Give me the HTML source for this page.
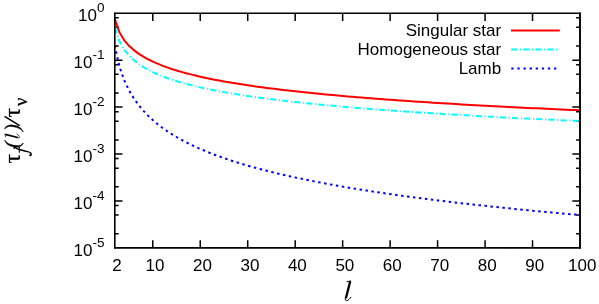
<!DOCTYPE html>
<html><head><meta charset="utf-8"><title>plot</title><style>html,body{margin:0;padding:0;background:#fff;}svg{display:block;will-change:transform;}text{font-family:"Liberation Sans",sans-serif;fill:#000;}.s{font-family:"Liberation Serif",serif;}.i{font-family:"Liberation Serif",serif;font-style:italic;}</style></head><body>
<svg width="599" height="304" viewBox="0 0 599 304">
<rect x="0" y="0" width="599" height="304" fill="#fff"/>
<path d="M152.78,247.90 v-7.7 M152.78,13.20 v7.7 M200.24,247.90 v-7.7 M200.24,13.20 v7.7 M247.71,247.90 v-7.7 M247.71,13.20 v7.7 M295.18,247.90 v-7.7 M295.18,13.20 v7.7 M342.65,247.90 v-7.7 M342.65,13.20 v7.7 M390.12,247.90 v-7.7 M390.12,13.20 v7.7 M437.59,247.90 v-7.7 M437.59,13.20 v7.7 M485.06,247.90 v-7.7 M485.06,13.20 v7.7 M532.53,247.90 v-7.7 M532.53,13.20 v7.7 M114.80,46.01 h3.9 M580.00,46.01 h-3.9 M114.80,27.33 h3.9 M580.00,27.33 h-3.9 M114.80,17.75 h3.9 M580.00,17.75 h-3.9 M114.80,60.14 h7.7 M580.00,60.14 h-7.7 M114.80,92.95 h3.9 M580.00,92.95 h-3.9 M114.80,74.27 h3.9 M580.00,74.27 h-3.9 M114.80,64.69 h3.9 M580.00,64.69 h-3.9 M114.80,107.08 h7.7 M580.00,107.08 h-7.7 M114.80,139.89 h3.9 M580.00,139.89 h-3.9 M114.80,121.21 h3.9 M580.00,121.21 h-3.9 M114.80,111.63 h3.9 M580.00,111.63 h-3.9 M114.80,154.02 h7.7 M580.00,154.02 h-7.7 M114.80,186.83 h3.9 M580.00,186.83 h-3.9 M114.80,168.15 h3.9 M580.00,168.15 h-3.9 M114.80,158.57 h3.9 M580.00,158.57 h-3.9 M114.80,200.96 h7.7 M580.00,200.96 h-7.7 M114.80,233.77 h3.9 M580.00,233.77 h-3.9 M114.80,215.09 h3.9 M580.00,215.09 h-3.9 M114.80,205.51 h3.9 M580.00,205.51 h-3.9" stroke="#000" stroke-width="1.5" fill="none"/>
<clipPath id="c"><rect x="113.8" y="13.2" width="467.2" height="234.7"/></clipPath>
<g clip-path="url(#c)" fill="none" stroke-width="2" stroke-linejoin="round">
<path d="M114.80,19.20 L119.55,32.57 L124.29,40.31 L129.04,45.80 L133.79,50.09 L138.53,53.62 L143.28,56.63 L148.03,59.26 L152.78,61.59 L157.52,63.69 L162.27,65.60 L167.02,67.35 L171.76,68.97 L176.51,70.46 L181.26,71.86 L186.00,73.17 L190.75,74.40 L195.50,75.56 L200.24,76.66 L204.99,77.71 L209.74,78.70 L214.49,79.65 L219.23,80.55 L223.98,81.42 L228.73,82.25 L233.47,83.05 L238.22,83.82 L242.97,84.56 L247.71,85.28 L252.46,85.97 L257.21,86.64 L261.96,87.29 L266.70,87.91 L271.45,88.52 L276.20,89.11 L280.94,89.69 L285.69,90.24 L290.44,90.79 L295.18,91.32 L299.93,91.83 L304.68,92.34 L309.42,92.83 L314.17,93.31 L318.92,93.78 L323.67,94.24 L328.41,94.68 L333.16,95.12 L337.91,95.55 L342.65,95.97 L347.40,96.38 L352.15,96.79 L356.89,97.18 L361.64,97.57 L366.39,97.95 L371.13,98.33 L375.88,98.69 L380.63,99.05 L385.38,99.41 L390.12,99.76 L394.87,100.10 L399.62,100.44 L404.36,100.77 L409.11,101.09 L413.86,101.42 L418.60,101.73 L423.35,102.04 L428.10,102.35 L432.84,102.65 L437.59,102.95 L442.34,103.24 L447.09,103.53 L451.83,103.82 L456.58,104.10 L461.33,104.38 L466.07,104.65 L470.82,104.92 L475.57,105.19 L480.31,105.45 L485.06,105.71 L489.81,105.96 L494.56,106.22 L499.30,106.47 L504.05,106.71 L508.80,106.96 L513.54,107.20 L518.29,107.44 L523.04,107.67 L527.78,107.91 L532.53,108.14 L537.28,108.37 L542.02,108.59 L546.77,108.81 L551.52,109.03 L556.27,109.25 L561.01,109.47 L565.76,109.68 L570.51,109.89 L575.25,110.10 L580.00,110.31" stroke="#ff0000"/>
<path d="M114.80,27.33 L119.55,41.46 L124.29,49.73 L129.04,55.59 L133.79,60.14 L138.53,63.86 L143.28,67.00 L148.03,69.72 L152.78,72.12 L157.52,74.27 L162.27,76.21 L167.02,77.99 L171.76,79.62 L176.51,81.13 L181.26,82.54 L186.00,83.85 L190.75,85.09 L195.50,86.25 L200.24,87.36 L204.99,88.40 L209.74,89.40 L214.49,90.34 L219.23,91.25 L223.98,92.12 L228.73,92.95 L233.47,93.75 L238.22,94.52 L242.97,95.26 L247.71,95.98 L252.46,96.67 L257.21,97.33 L261.96,97.98 L266.70,98.61 L271.45,99.22 L276.20,99.81 L280.94,100.38 L285.69,100.94 L290.44,101.49 L295.18,102.01 L299.93,102.53 L304.68,103.03 L309.42,103.53 L314.17,104.01 L318.92,104.47 L323.67,104.93 L328.41,105.38 L333.16,105.82 L337.91,106.25 L342.65,106.67 L347.40,107.08 L352.15,107.48 L356.89,107.88 L361.64,108.27 L366.39,108.65 L371.13,109.02 L375.88,109.39 L380.63,109.75 L385.38,110.11 L390.12,110.45 L394.87,110.80 L399.62,111.13 L404.36,111.47 L409.11,111.79 L413.86,112.11 L418.60,112.43 L423.35,112.74 L428.10,113.05 L432.84,113.35 L437.59,113.65 L442.34,113.94 L447.09,114.23 L451.83,114.51 L456.58,114.79 L461.33,115.07 L466.07,115.35 L470.82,115.62 L475.57,115.88 L480.31,116.15 L485.06,116.40 L489.81,116.66 L494.56,116.91 L499.30,117.16 L504.05,117.41 L508.80,117.66 L513.54,117.90 L518.29,118.14 L523.04,118.37 L527.78,118.60 L532.53,118.83 L537.28,119.06 L542.02,119.29 L546.77,119.51 L551.52,119.73 L556.27,119.95 L561.01,120.16 L565.76,120.38 L570.51,120.59 L575.25,120.80 L580.00,121.01" stroke="#00ffff" stroke-dasharray="6.1 2.78 1.15 2.1"/>
<path d="M114.80,46.01 L119.55,67.00 L124.29,80.39 L129.04,90.34 L133.79,98.30 L138.53,104.93 L143.28,110.63 L148.03,115.62 L152.78,120.06 L157.52,124.06 L162.27,127.70 L167.02,131.04 L171.76,134.13 L176.51,137.00 L181.26,139.68 L186.00,142.20 L190.75,144.57 L195.50,146.81 L200.24,148.93 L204.99,150.95 L209.74,152.87 L214.49,154.70 L219.23,156.46 L223.98,158.14 L228.73,159.76 L233.47,161.31 L238.22,162.81 L242.97,164.25 L247.71,165.65 L252.46,167.00 L257.21,168.30 L261.96,169.57 L266.70,170.79 L271.45,171.99 L276.20,173.14 L280.94,174.27 L285.69,175.36 L290.44,176.43 L295.18,177.47 L299.93,178.48 L304.68,179.47 L309.42,180.44 L314.17,181.38 L318.92,182.30 L323.67,183.20 L328.41,184.08 L333.16,184.95 L337.91,185.79 L342.65,186.62 L347.40,187.43 L352.15,188.23 L356.89,189.01 L361.64,189.77 L366.39,190.53 L371.13,191.26 L375.88,191.99 L380.63,192.70 L385.38,193.40 L390.12,194.09 L394.87,194.77 L399.62,195.43 L404.36,196.09 L409.11,196.73 L413.86,197.37 L418.60,197.99 L423.35,198.61 L428.10,199.21 L432.84,199.81 L437.59,200.40 L442.34,200.98 L447.09,201.55 L451.83,202.12 L456.58,202.67 L461.33,203.22 L466.07,203.76 L470.82,204.30 L475.57,204.83 L480.31,205.35 L485.06,205.86 L489.81,206.37 L494.56,206.87 L499.30,207.37 L504.05,207.86 L508.80,208.34 L513.54,208.82 L518.29,209.29 L523.04,209.76 L527.78,210.22 L532.53,210.68 L537.28,211.13 L542.02,211.58 L546.77,212.02 L551.52,212.46 L556.27,212.89 L561.01,213.32 L565.76,213.74 L570.51,214.16 L575.25,214.58 L580.00,214.99" stroke="#0000ff" stroke-dasharray="2.5 3.5" stroke-dashoffset="0.5"/>
</g>
<g stroke="#000" fill="none" stroke-linecap="round"><path d="M114.8,13.2 V247.9" stroke-width="1.6"/><path d="M580,13.2 V247.9" stroke-width="1.9"/><path d="M114.8,13.3 H580" stroke-width="1.5"/><path d="M114.8,247.9 H580" stroke-width="1.6"/></g>
<g font-size="17" text-anchor="middle">
<text x="117.00" y="271">2</text>
<text x="154.98" y="271">10</text>
<text x="202.44" y="271">20</text>
<text x="249.91" y="271">30</text>
<text x="297.38" y="271">40</text>
<text x="344.85" y="271">50</text>
<text x="392.32" y="271">60</text>
<text x="439.79" y="271">70</text>
<text x="487.26" y="271">80</text>
<text x="534.73" y="271">90</text>
<text x="582.20" y="271">100</text>
</g>
<g font-size="17" text-anchor="end">
<text x="104.6" y="20.80">10<tspan font-size="13.6" dy="-8.6">0</tspan></text>
<text x="104.6" y="67.74">10<tspan font-size="13.6" dy="-8.6">-1</tspan></text>
<text x="104.6" y="114.68">10<tspan font-size="13.6" dy="-8.6">-2</tspan></text>
<text x="104.6" y="161.62">10<tspan font-size="13.6" dy="-8.6">-3</tspan></text>
<text x="104.6" y="208.56">10<tspan font-size="13.6" dy="-8.6">-4</tspan></text>
<text x="104.6" y="255.50">10<tspan font-size="13.6" dy="-8.6">-5</tspan></text>
</g>
<g font-size="17" text-anchor="end">
<text x="501.2" y="36">Singular star</text>
<text x="501.2" y="55.2">Homogeneous star</text>
<text x="501.2" y="74">Lamb</text>
</g>
<g fill="none" stroke-width="2">
<path d="M511,30.5 H559.8" stroke="#ff0000"/>
<path d="M511,49.5 H558.2" stroke="#00ffff" stroke-dasharray="6.1 2.78 1.15 2.1"/>
<path d="M511.3,68.55 H556.4" stroke="#0000ff" stroke-dasharray="2.3 3.8"/>
</g>
<g transform="translate(345.0,300.6)" fill="none" stroke="#000" stroke-linecap="round" stroke-linejoin="round"><path d="M5.2,-19.3 L0.9,-2.3" stroke-width="2.3" stroke-linecap="butt"/><path d="M0.3,-2.6 C-0.2,-0.3 1.0,0.5 2.3,-0.1 C3.6,-0.7 5.0,-2.0 5.9,-3.3" stroke-width="1.0"/><path d="M1.9,-18.9 L5.6,-19.7" stroke-width="0.9"/></g>
<g stroke="#000" stroke-width="0.25">
<text class="s" font-size="24" transform="translate(19.5,163.5) rotate(-90) ">τ</text>
<text class="i" font-size="20.7" transform="translate(18.7,148) rotate(-90) ">(</text>
<text class="i" font-size="20.7" transform="translate(18.7,131) rotate(-90) ">)</text>
<text class="s" font-size="24" transform="translate(19.5,117.4) rotate(-90) ">τ</text>
<text class="s" font-size="18.5" transform="translate(26.85,106.1) rotate(-90) ">ν</text>
</g>
<g transform="translate(19.4,138.2) rotate(-90) scale(0.735)" fill="none" stroke="#000" stroke-linecap="round" stroke-linejoin="round"><path d="M5.2,-19.3 L0.9,-2.3" stroke-width="2.3" stroke-linecap="butt"/><path d="M0.3,-2.6 C-0.2,-0.3 1.0,0.5 2.3,-0.1 C3.6,-0.7 5.0,-2.0 5.9,-3.3" stroke-width="1.0"/><path d="M1.9,-18.9 L5.6,-19.7" stroke-width="0.9"/></g>
<path d="M4.6,116.3 L19.7,125.6" stroke="#000" stroke-width="1.5" fill="none"/>
<g fill="none" stroke="#000" stroke-linecap="round" stroke-linejoin="round"><path d="M14.1,147.9 C14.4,146.7 15.6,147.4 16.4,148.4 L19.4,149.6 L25.8,151.2 C28.5,151.8 30.5,152.1 31.0,153.5 C31.4,154.7 30.9,155.4 30.2,155.5" stroke-width="1.5"/><path d="M19.3,147.2 L19.3,152.2" stroke-width="1.1"/><circle cx="30.2" cy="155.2" r="0.9" fill="#000" stroke="none"/><circle cx="14.3" cy="148.0" r="0.8" fill="#000" stroke="none"/></g>
</svg></body></html>
